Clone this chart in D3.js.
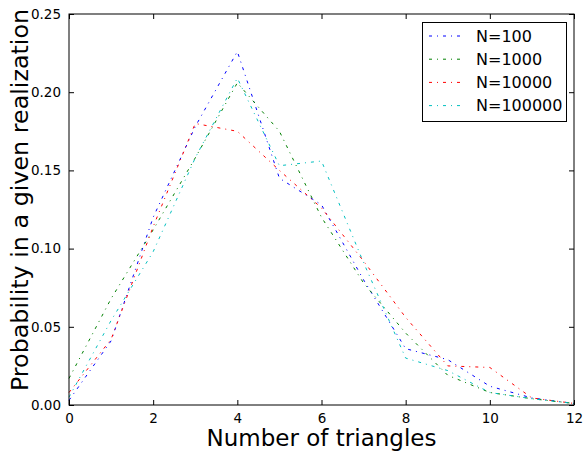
<!DOCTYPE html>
<html>
<head>
<meta charset="utf-8">
<script src="https://cdn.jsdelivr.net/npm/d3@7"></script>
<style>
  html, body { margin: 0; padding: 0; background: #fff; }
  svg { display: block; }
  text { font-family: "DejaVu Sans", sans-serif; fill: #000; }
</style>
</head>
<body>
<svg id="chart" width="585" height="451"></svg>
<script>
const xValues = [0, 1, 2, 3, 4, 5, 6, 7, 8, 9, 10, 11, 12];
const seriesNames = ["N=100", "N=1000", "N=10000", "N=100000"];
const n100    = [0.003, 0.041, 0.120, 0.178, 0.226, 0.145, 0.128, 0.080, 0.036, 0.029, 0.012, 0.0045, 0.001];
const n1000   = [0.017, 0.068, 0.112, 0.158, 0.206, 0.175, 0.120, 0.078, 0.046, 0.019, 0.008, 0.004, 0.001];
const n10000  = [0.008, 0.042, 0.114, 0.180, 0.175, 0.150, 0.126, 0.092, 0.056, 0.025, 0.024, 0.0045, 0.001];
const n100000 = [0.005, 0.054, 0.098, 0.158, 0.209, 0.153, 0.156, 0.091, 0.030, 0.022, 0.008, 0.004, 0.001];
const seriesColors = ["#0000ff", "#008000", "#ff0000", "#00bfbf"];
const xTicks = [0, 2, 4, 6, 8, 10, 12];
const yTicks = [0.00, 0.05, 0.10, 0.15, 0.20, 0.25];
const xLabel = "Number of triangles";
const yLabel = "Probability in a given realization";

const series = [n100, n1000, n10000, n100000].map((vals, i) => ({
  name: seriesNames[i], color: seriesColors[i],
  points: vals.map((v, j) => [xValues[j], v])
}));

const svg = d3.select("#chart");
const pL = 69, pR = 574, pT = 14, pB = 405;
const x = d3.scaleLinear().domain([0, 12]).range([pL, pR]);
const y = d3.scaleLinear().domain([0, 0.25]).range([pB, pT]);

const tickLen = 5;
const fs = 13.5;

// lines
const line = d3.line().x(d => x(d[0])).y(d => y(d[1]));
svg.append("g").selectAll("path").data(series).join("path")
  .attr("d", d => line(d.points))
  .attr("fill", "none")
  .attr("stroke", d => d.color)
  .attr("stroke-width", 1)
  .attr("stroke-dasharray", "3,5,1,5");

// axes (ticks inward) on all four sides
const axB = d3.axisBottom(x).tickValues(xTicks).tickSize(-tickLen).tickPadding(8).tickFormat(d3.format("d"));
const axT = d3.axisTop(x).tickValues(xTicks).tickSize(-tickLen).tickFormat("");
const axL = d3.axisLeft(y).tickValues(yTicks).tickSize(-tickLen).tickPadding(8).tickFormat(d3.format(".2f"));
const axR = d3.axisRight(y).tickValues(yTicks).tickSize(-tickLen).tickFormat("");

function style(g) {
  g.select(".domain").remove();
  g.selectAll(".tick line").attr("stroke", "#000").attr("stroke-width", 1);
  g.selectAll(".tick text").attr("font-family", "DejaVu Sans").attr("font-size", fs).attr("fill", "#000");
}
svg.append("g").attr("transform", `translate(0,${pB})`).call(axB).call(style);
svg.append("g").attr("transform", `translate(0,${pT})`).call(axT).call(style);
svg.append("g").attr("transform", `translate(${pL},0)`).call(axL).call(style);
svg.append("g").attr("transform", `translate(${pR},0)`).call(axR).call(style);

// frame
svg.append("rect").attr("x", pL).attr("y", pT)
  .attr("width", pR - pL).attr("height", pB - pT)
  .attr("fill", "none").attr("stroke", "#000").attr("stroke-width", 1);

// axis labels
svg.append("text").attr("x", (pL + pR) / 2).attr("y", 446)
  .attr("text-anchor", "middle").attr("font-size", 23).text(xLabel);
svg.append("text").attr("transform", `translate(28,200) rotate(-90)`)
  .attr("text-anchor", "middle").attr("font-size", 23.8).text(yLabel);

// legend
const lg = svg.append("g");
lg.append("rect").attr("x", 422.5).attr("y", 22.5).attr("width", 144).attr("height", 99)
  .attr("fill", "#fff").attr("stroke", "#000").attr("stroke-width", 1);
series.forEach((s, i) => {
  const cy = 36 + i * 23.2;
  lg.append("line").attr("x1", 429).attr("x2", 464).attr("y1", cy).attr("y2", cy)
    .attr("stroke", s.color).attr("stroke-width", 1).attr("stroke-dasharray", "3,5,1,5");
  lg.append("text").attr("x", 476).attr("y", cy).attr("dy", "0.36em")
    .attr("font-size", 16).text(s.name);
});
</script>
</body>
</html>
